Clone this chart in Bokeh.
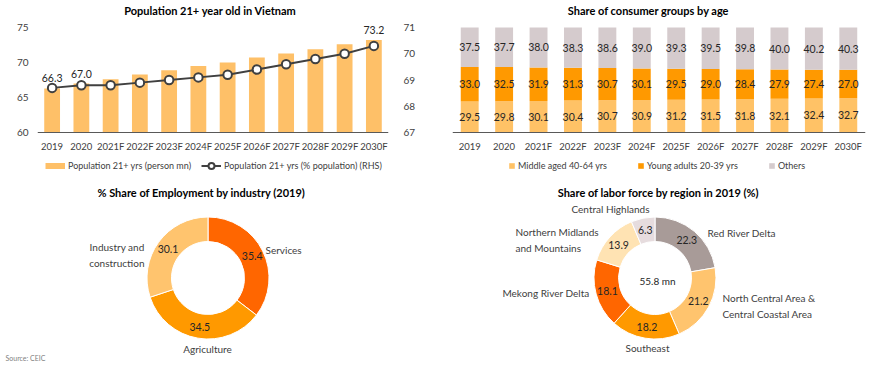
import numpy as np
from bokeh.plotting import figure
from bokeh.models import (Range1d, LinearAxis, FixedTicker, Legend, LegendItem,
                          ColumnDataSource, FactorRange, Label)
from bokeh.layouts import column, row
from bokeh.embed import file_html
from bokeh.resources import INLINE
from bokeh.core.properties import value

FONT = "Lato"
TXT = "#262626"
AX = "#404040"

# ---------------- data ----------------
years = ["2019", "2020", "2021F", "2022F", "2023F", "2024F",
         "2025F", "2026F", "2027F", "2028F", "2029F", "2030F"]
pop_mn = [66.3, 67.0, 67.6, 68.3, 68.9, 69.5, 70.0, 70.7, 71.3, 71.9, 72.6, 73.2]
pop_pct = [68.7, 68.8, 68.8, 68.9, 69.0, 69.1, 69.2, 69.4, 69.6, 69.8, 70.0, 70.3]
pop_labelled_years = ["2019", "2020", "2030F"]
left_ticks = [60, 65, 70, 75]
right_ticks = [67, 68, 69, 70, 71]

middle_aged = [29.5, 29.8, 30.1, 30.4, 30.7, 30.9, 31.2, 31.5, 31.8, 32.1, 32.4, 32.7]
young_adults = [33.0, 32.5, 31.9, 31.3, 30.7, 30.1, 29.5, 29.0, 28.4, 27.9, 27.4, 27.0]
others = [37.5, 37.7, 38.0, 38.3, 38.6, 39.0, 39.3, 39.5, 39.8, 40.0, 40.2, 40.3]
age_groups = ["Middle aged 40-64 yrs", "Young adults 20-39 yrs", "Others"]

industries = ["Services", "Agriculture", "Industry and\nconstruction"]
industry_share = [35.4, 34.5, 30.1]

regions = ["Red River Delta", "North Central Area &\nCentral Coastal Area", "Southeast",
           "Mekong River Delta", "Northern Midlands\nand Mountains", "Central Highlands"]
region_share = [22.3, 21.2, 18.2, 18.1, 13.9, 6.3]
labor_force_total = 55.8

# ---------------- styles / layout ----------------
BAR_COL = "#FEC068"
AGE_COLS = ["#FFC266", "#FF9900", "#D5CBCD"]
IND_COLS = ["#FF6600", "#FF9900", "#FFC46E"]
REG_COLS = ["#A89B98", "#FFC46E", "#FF9900", "#FF6600", "#FFE3B3", "#E6DCDE"]

W, H_TOP, H_BOT = 435, 175, 192
PLOT_TOP, PLOT_BOTTOM = 27, 132      # pixel rows of the value area in the top charts


def padded_range(lo, hi):
    """Range whose [lo, hi] part occupies pixel rows PLOT_BOTTOM..PLOT_TOP of the frame."""
    per_px = (hi - lo) / (PLOT_BOTTOM - PLOT_TOP)
    return Range1d(lo - (H_TOP - PLOT_BOTTOM) * per_px, hi + PLOT_TOP * per_px)


def style_axis(ax, standoff, size="10px"):
    ax.major_tick_line_color = None
    ax.minor_tick_line_color = None
    ax.major_tick_out = 0
    ax.major_tick_in = 0
    ax.major_label_standoff = standoff
    ax.major_label_text_font = FONT
    ax.major_label_text_font_size = size
    ax.major_label_text_color = AX


def add_title(p, text, x, y):
    p.add_layout(Label(x=x, y=y, x_units="screen", y_units="screen", text=text,
                       text_align="center", text_baseline="middle", text_font=FONT,
                       text_font_size="11px", text_font_style="bold",
                       text_color="#000000"))


# ---------------- chart 1: population ----------------
p1 = figure(width=W, height=H_TOP, x_range=FactorRange(factors=years),
            y_range=padded_range(60, 75), output_backend="svg", toolbar_location=None,
            title=None, min_border_left=37, min_border_right=47, min_border_top=0,
            min_border_bottom=0)
p1.outline_line_color = None
p1.grid.visible = False
p1.extra_y_ranges = {"rhs": padded_range(67, 71)}
rax = LinearAxis(y_range_name="rhs", ticker=FixedTicker(ticks=right_ticks))
p1.add_layout(rax, "right")
p1.yaxis[0].ticker = FixedTicker(ticks=left_ticks)
p1.xaxis[0].fixed_location = left_ticks[0]
style_axis(p1.xaxis[0], 8, "9.5px")
style_axis(p1.yaxis[0], 9)
style_axis(rax, 15)
p1.yaxis[0].axis_line_color = None
rax.axis_line_color = None
p1.xaxis[0].axis_line_color = "#595959"

p1.vbar(x=years, top=pop_mn, bottom=left_ticks[0], width=0.54, fill_color=BAR_COL,
        line_color=None)
r_line = p1.line(years, pop_pct, y_range_name="rhs", line_color=AX, line_width=2)
r_pts = p1.scatter(years, pop_pct, y_range_name="rhs", size=8.5, fill_color="white",
                   line_color=AX, line_width=2)
lab_src = ColumnDataSource(dict(
    x=pop_labelled_years,
    y=[pop_mn[years.index(y)] for y in pop_labelled_years],
    t=["%.1f" % pop_mn[years.index(y)] for y in pop_labelled_years]))
p1.text(x="x", y="y", text="t", source=lab_src, text_align="center", text_baseline="bottom",
        y_offset=-6, text_font=value(FONT), text_font_size="10.5px", text_color=TXT)
bar_proxy = p1.line(x=[years[0]], y=[float("nan")], line_color=BAR_COL, line_width=6)
leg1 = Legend(items=[LegendItem(label="Population 21+ yrs (person mn)", renderers=[bar_proxy]),
                     LegendItem(label="Population 21+ yrs (% population) (RHS)",
                                renderers=[r_line, r_pts])],
              orientation="horizontal", location=(8, 2.5), glyph_width=20, glyph_height=15,
              label_height=15, label_standoff=3, spacing=10, padding=0, margin=0,
              border_line_color=None, background_fill_alpha=0,
              label_text_font=FONT, label_text_font_size="9px", label_text_color=AX)
p1.add_layout(leg1, "center")
add_title(p1, "Population 21+ year old in Vietnam", 173, H_TOP - 9.5)

# ---------------- chart 2: age groups ----------------
p2 = figure(width=W, height=H_TOP, x_range=FactorRange(factors=years),
            y_range=padded_range(0, 100), output_backend="svg", toolbar_location=None,
            title=None, min_border_left=17, min_border_right=5, min_border_top=0,
            min_border_bottom=0)
p2.outline_line_color = None
p2.grid.visible = False
p2.yaxis.visible = False
p2.xaxis[0].fixed_location = 0
style_axis(p2.xaxis[0], 8, "9.5px")
p2.xaxis[0].axis_line_color = "#595959"
src2 = ColumnDataSource(dict(x=years, m=middle_aged, y=young_adults, o=others))
stack = p2.vbar_stack(["m", "y", "o"], x="x", width=0.52, color=AGE_COLS, line_color=None,
                      source=src2)
series = [middle_aged, young_adults, others]
base = np.zeros(len(years))
for s in series:
    arr = np.array(s)
    p2.text(x=years, y=list(base + arr / 2), text=["%.1f" % v for v in s],
            text_align="center", text_baseline="middle", text_font=value(FONT),
            text_font_size="10.5px", text_color=TXT)
    base = base + arr
leg2 = Legend(items=[LegendItem(label=g, renderers=[r]) for g, r in zip(age_groups, stack)],
              orientation="horizontal", location=(56, 4), glyph_width=7, glyph_height=7,
              label_height=7, label_standoff=3, spacing=30, padding=0, margin=0,
              border_line_color=None, background_fill_alpha=0,
              label_text_font=FONT, label_text_font_size="9px", label_text_color=AX)
p2.add_layout(leg2, "center")
add_title(p2, "Share of consumer groups by age", 196, H_TOP - 9.5)


# ---------------- donut helper ----------------
def donut_fig():
    p = figure(width=W, height=H_BOT, x_range=Range1d(0, W), y_range=Range1d(0, H_BOT),
               output_backend="svg", toolbar_location=None, min_border=0,
               x_axis_location=None, y_axis_location=None, title=None)
    p.outline_line_color = None
    p.grid.visible = False
    return p


def draw_donut(p, shares, colors, cx, cy, r_in, r_out):
    fr = np.array(shares) / np.sum(shares)
    cum = np.concatenate([[0.0], np.cumsum(fr)])
    start = np.pi / 2 - 2 * np.pi * cum[:-1]
    end = np.pi / 2 - 2 * np.pi * cum[1:]
    p.annular_wedge(x=cx, y=cy, inner_radius=r_in, outer_radius=r_out,
                    start_angle=list(start), end_angle=list(end), direction="clock",
                    fill_color=colors, line_color="white", line_width=1)
    mid = 2 * np.pi * (cum[:-1] + fr / 2)
    rm = (r_in + r_out) / 2 + 0.5
    p.text(x=list(cx + rm * np.sin(mid)), y=list(cy + rm * np.cos(mid)),
           text=["%.1f" % v for v in shares], text_align="center", text_baseline="middle",
           text_font=value(FONT), text_font_size="10.5px", text_color=TXT)


def put_text(p, x, y, t, align="center", size="10px", bold=False, color=AX):
    p.text(x=[x], y=[H_BOT - y], text=[t], text_align=align, text_baseline="middle",
           text_font=value(FONT), text_font_size=size, text_color=color,
           text_font_style="bold" if bold else "normal", text_line_height=1.3)


# ---------------- chart 3: employment ----------------
p3 = donut_fig()
put_text(p3, 201, 17, "% Share of Employment by industry (2019)", size="11px", bold=True,
         color="#000000")
draw_donut(p3, industry_share, IND_COLS, 207.5, H_BOT - 102.5, 36.5, 61)
ind_label_pos = [(265, 74, "left"), (207, 173, "center"), (144, 79.5, "right")]
for name, (x, y, a) in zip(industries, ind_label_pos):
    put_text(p3, x, y, name, align=a)
put_text(p3, 5, 182, "Source: CEIC", align="left", size="7px", color="#7F7F7F")

# ---------------- chart 4: labor force ----------------
p4 = donut_fig()
put_text(p4, 223, 17, "Share of labor force by region in 2019 (%)", size="11px",
         bold=True, color="#000000")
draw_donut(p4, region_share, REG_COLS, 219.5, H_BOT - 102.5, 36.5, 61)
put_text(p4, 222, 105, "%.1f mn" % labor_force_total, size="10px", color=TXT)
reg_label_pos = [(272, 57, "left"), (287, 130.5, "left"), (212, 172, "center"),
                 (154, 117, "right"), (80, 64.5, "left"), (175, 33, "center")]
for name, (x, y, a) in zip(regions, reg_label_pos):
    put_text(p4, x, y, name, align=a)

layout = column(row(p1, p2), row(p3, p4))
open("out.html", "w").write(file_html(layout, INLINE))
